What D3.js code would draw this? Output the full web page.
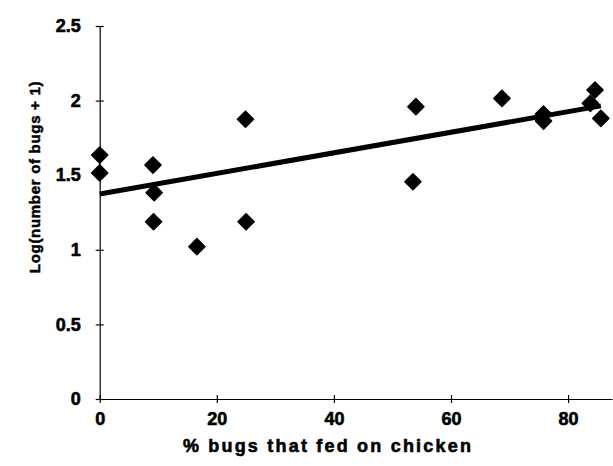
<!DOCTYPE html>
<html>
<head>
<meta charset="utf-8">
<script src="https://cdn.jsdelivr.net/npm/d3@7"></script>
<style>
  body { margin: 0; background: #fff; }
  text { font-family: "Liberation Sans", Arial, sans-serif; font-weight: bold; fill: #000; }
</style>
</head>
<body>
<div id="plot-container"></div>
<script>
const w = 613;
const h = 466;

// % bugs that fed on chicken
const pctChicken = [0, 0, 9.1, 9.3, 9.2, 16.6, 24.9, 25.0, 53.5, 54.0, 68.7, 75.8, 75.8, 83.8, 84.6, 85.6];
// log(number of bugs + 1)
const logBugs = [1.635, 1.515, 1.568, 1.383, 1.188, 1.021, 1.875, 1.188, 1.456, 1.959, 2.015, 1.910, 1.863, 1.982, 2.071, 1.881];

const xTicks = [0, 20, 40, 60, 80];
const yTicks = [0, 0.5, 1, 1.5, 2, 2.5];

// fitted line
const fitIntercept = 1.374;
const fitSlope = 0.0069;

const svg = d3.select('#plot-container')
    .append('svg')
    .attr('width', w)
    .attr('height', h);

const xScale = d3.scaleLinear()
    .domain([0, 87.5])
    .range([99.7, 612]);

const yScale = d3.scaleLinear()
    .domain([0, 2.5])
    .range([399, 26]);

// axes
const xAxis = d3.axisBottom(xScale).tickValues(xTicks).tickSize(4).tickSizeOuter(0).tickPadding(9);
const yAxis = d3.axisLeft(yScale).tickValues(yTicks).tickSize(4).tickSizeOuter(0).tickPadding(15)
    .tickFormat(d => String(d));

const gx = svg.append('g')
    .attr('transform', 'translate(0,' + yScale(0) + ')')
    .call(xAxis);
gx.selectAll('.tick line').attr('y1', -4).attr('y2', 4);

const gy = svg.append('g')
    .attr('transform', 'translate(' + xScale(0) + ',0)')
    .call(yAxis);
gy.selectAll('.tick line').attr('x1', -4).attr('x2', 4);

svg.selectAll('.domain, .tick line').attr('stroke', '#000').attr('stroke-width', 1.2);
svg.selectAll('.tick text')
    .style('font-size', '18px')
    .style('font-family', '"Liberation Sans", Arial, sans-serif')
    .style('font-weight', 'bold')
    .attr('fill', '#000')
    .attr('stroke', '#000')
    .attr('stroke-width', 0.6);

// regression line
const xEnd = d3.max(pctChicken);
svg.append('line')
    .attr('x1', xScale(0))
    .attr('y1', yScale(fitIntercept))
    .attr('x2', xScale(xEnd))
    .attr('y2', yScale(fitIntercept + fitSlope * xEnd))
    .attr('stroke', '#000')
    .attr('stroke-width', 5);

// points
const diamond = d3.symbol().type(d3.symbolSquare).size(130);
svg.selectAll('path.dot')
    .data(pctChicken)
    .enter()
    .append('path')
    .attr('class', 'dot')
    .attr('d', diamond)
    .attr('transform', (d, i) => 'translate(' + xScale(d) + ',' + yScale(logBugs[i]) + ') rotate(45)')
    .attr('fill', '#000')
    .attr('stroke', '#000')
    .attr('stroke-width', 1.5)
    .attr('stroke-linejoin', 'round');

// axis titles
svg.append('text')
    .attr('x', 328)
    .attr('y', 452)
    .attr('text-anchor', 'middle')
    .attr('stroke', '#000')
    .attr('stroke-width', 0.6)
    .style('font-size', '18px')
    .style('letter-spacing', '2.2px')
    .text('% bugs that fed on chicken');

svg.append('text')
    .attr('transform', 'translate(40,177) rotate(-90)')
    .attr('text-anchor', 'middle')
    .attr('stroke', '#000')
    .attr('stroke-width', 0.5)
    .style('font-size', '15px')
    .style('letter-spacing', '0.7px')
    .text('Log(number of bugs + 1)');
</script>
</body>
</html>
